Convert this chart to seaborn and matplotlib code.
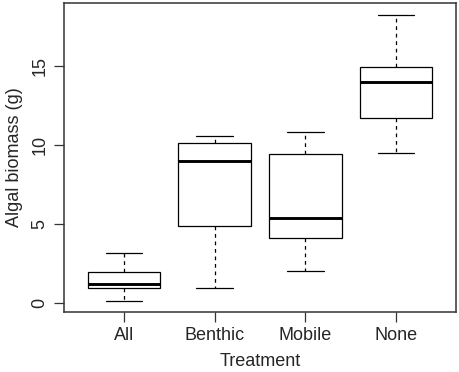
import numpy as np
import pandas as pd
import matplotlib
matplotlib.use('Agg')
import matplotlib.pyplot as plt
import seaborn as sns

sns.set_style('white')
plt.rcParams['font.family'] = ['Liberation Sans', 'DejaVu Sans']

# five-number summaries (min, q1, median, q3, max)
treatments = ['All', 'Benthic', 'Mobile', 'None']
all_vals = [0.13, 0.95, 1.2, 1.96, 3.17]
benthic_vals = [0.95, 4.9, 9.0, 10.15, 10.57]
mobile_vals = [2.04, 4.11, 5.38, 9.43, 10.84]
none_vals = [9.49, 11.73, 13.97, 14.96, 18.23]

df = pd.DataFrame({
    'Treatment': np.repeat(treatments, 5),
    'biomass': all_vals + benthic_vals + mobile_vals + none_vals,
})

fig = plt.figure(figsize=(4.59, 3.72), dpi=100)
ax = fig.add_axes([64/459, 1 - 312/372, (456-64)/459, (312-3)/372])

sns.boxplot(data=df, x='Treatment', y='biomass', order=treatments, ax=ax,
            whis=np.inf, width=0.8, color='white', linecolor='black',
            linewidth=0.9, fill=True,
            boxprops=dict(facecolor='white', edgecolor='black', linewidth=0.9),
            medianprops=dict(color='black', linewidth=2.1),
            whiskerprops=dict(color='black', linewidth=0.9, linestyle=(0, (3, 3))),
            capprops=dict(color='black', linewidth=0.9),
            capwidths=0.4)

ax.set_xlim(-0.66, 3.66)
ax.set_ylim(-0.57, 19.0)
ax.set_yticks([0, 5, 10, 15])
ax.set_yticklabels(['0', '5', '10', '15'], rotation=90, va='center')
ax.set_xlabel('Treatment', fontsize=13, labelpad=6)
ax.set_ylabel('Algal biomass (g)', fontsize=13, labelpad=6)
ax.tick_params(axis='both', labelsize=13, length=7, width=0.9, color='#333333',
               direction='out', bottom=True, left=True, pad=4)
for s in ax.spines.values():
    s.set_visible(True)
    s.set_color('#333333')
    s.set_linewidth(1.1)

fig.savefig('out.png', dpi=100)
